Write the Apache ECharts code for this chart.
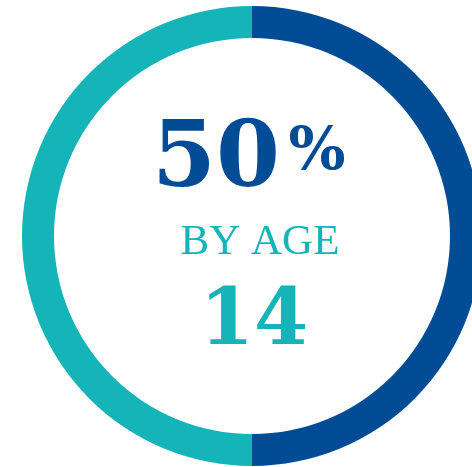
<!DOCTYPE html>
<html>
<head>
<meta charset="utf-8">
<script src="https://cdn.jsdelivr.net/npm/echarts@6/dist/echarts.min.js"></script>
<style>
html,body{margin:0;padding:0;background:#fff;}
#main{width:472px;height:467px;}
</style>
</head>
<body>
<div id="main"></div>
<script>
// Data
var categories = ['By age 14', 'After age 14'];
var values = [50, 50];
var colors = ['#024c96', '#15b4b8'];
var headline = '50';
var headlineUnit = '%';
var subtitle = 'BY AGE';
var ageLabel = '14';

var chart = echarts.init(document.getElementById('main'), null, {renderer: 'canvas'});
var option = {
  backgroundColor: '#ffffff',
  animation: false,
  series: [{
    type: 'pie',
    center: [252, 236],
    radius: [198, 230],
    startAngle: 90,
    clockwise: true,
    silent: true,
    label: {show: false},
    labelLine: {show: false},
    emphasis: {disabled: true},
    itemStyle: {borderWidth: 0},
    data: categories.map(function (c, i) {
      return {name: c, value: values[i], itemStyle: {color: colors[i]}};
    })
  }],
  graphic: [
    {
      type: 'text', x: 216, y: 162,
      style: {text: headline, fill: colors[0], font: 'bold 92px "DejaVu Serif"', align: 'center', verticalAlign: 'middle'}
    },
    {
      type: 'text', x: 317, y: 153,
      style: {text: headlineUnit, fill: colors[0], font: 'bold 60px "DejaVu Serif"', align: 'center', verticalAlign: 'middle'}
    },
    {
      type: 'text', x: 260, y: 243,
      style: {text: subtitle, fill: colors[1], font: '43px "Liberation Serif"', align: 'center', verticalAlign: 'middle'}
    },
    {
      type: 'text', x: 254, y: 324,
      style: {text: ageLabel, fill: colors[1], font: 'bold 78px "DejaVu Serif"', align: 'center', verticalAlign: 'middle'}
    }
  ]
};
chart.setOption(option);
</script>
</body>
</html>
